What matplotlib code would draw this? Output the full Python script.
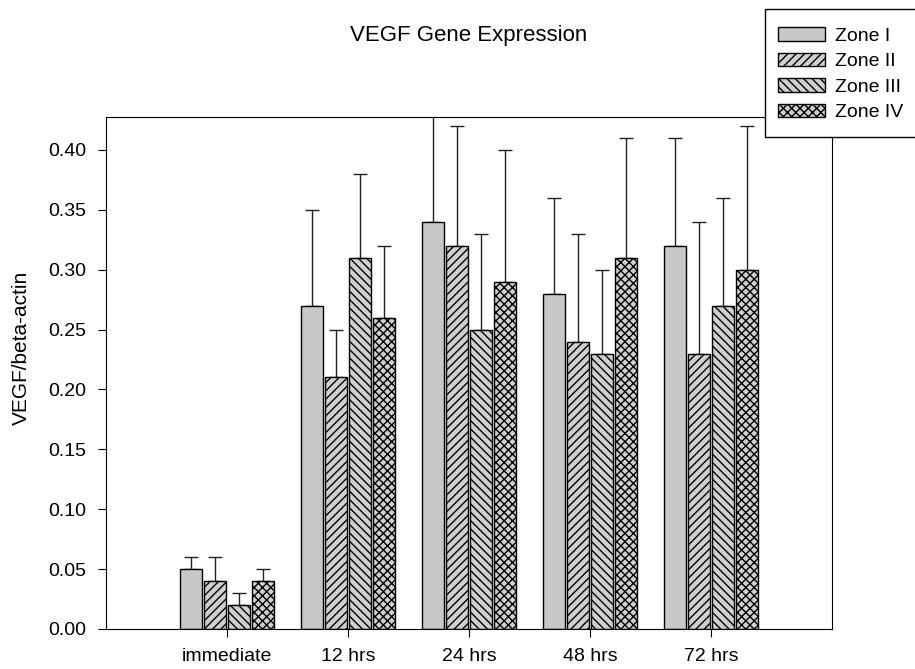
import matplotlib
matplotlib.use("Agg")
import matplotlib.pyplot as plt
from matplotlib.patches import Rectangle
import numpy as np

plt.rcParams['font.family'] = ['Liberation Sans', 'DejaVu Sans']
plt.rcParams['hatch.linewidth'] = 1.0

categories = ["immediate", "12 hrs", "24 hrs", "48 hrs", "72 hrs"]
zones = ["Zone I", "Zone II", "Zone III", "Zone IV"]
means = {
    "Zone I":   [0.05, 0.27, 0.34, 0.28, 0.32],
    "Zone II":  [0.04, 0.21, 0.32, 0.24, 0.23],
    "Zone III": [0.02, 0.31, 0.25, 0.23, 0.27],
    "Zone IV":  [0.04, 0.26, 0.29, 0.31, 0.30],
}
upper = {
    "Zone I":   [0.06, 0.35, 0.44, 0.36, 0.41],
    "Zone II":  [0.06, 0.25, 0.42, 0.33, 0.34],
    "Zone III": [0.03, 0.38, 0.33, 0.30, 0.36],
    "Zone IV":  [0.05, 0.32, 0.40, 0.41, 0.42],
}
hatches = {"Zone I": "", "Zone II": "////", "Zone III": "\\\\\\\\", "Zone IV": "xxxx"}
faces = {"Zone I": "#c8c8c8", "Zone II": "#cfcfcf", "Zone III": "#cfcfcf", "Zone IV": "#cfcfcf"}

fig = plt.figure(figsize=(9.15, 6.69), dpi=100)
ax = fig.add_axes([0.1158, 0.0598, 0.7935, 0.7653])

x = np.arange(len(categories))
step = 0.2
width = 0.18
for i, z in enumerate(zones):
    off = (i - 1.5) * step
    m = np.array(means[z])
    err = np.array(upper[z]) - m
    ax.bar(x + off, m, width, color=faces[z], edgecolor="black", linewidth=1.0,
           hatch=hatches[z], label=z, zorder=2)
    ax.errorbar(x + off, m, yerr=[np.zeros_like(err), err], fmt="none",
                ecolor="#222222", elinewidth=1.0, capsize=5, capthick=1.0, zorder=1)

ax.set_xlim(-1, 5)
ax.set_ylim(0, 0.4275)
ax.set_xticks(x)
ax.set_xticklabels(categories, fontsize=14)
ax.set_yticks(np.arange(0, 0.41, 0.05))
ax.set_yticklabels([f"{v:.2f}" for v in np.arange(0, 0.41, 0.05)], fontsize=14)
ax.tick_params(axis="both", direction="out", length=6, width=0.8, pad=8)
ax.set_ylabel("VEGF/beta-actin", fontsize=15)
ax.yaxis.set_label_coords(-0.104, 0.549)
for s in ax.spines.values():
    s.set_linewidth(0.8)

fig.text(0.5127, 0.947, "VEGF Gene Expression", ha="center", va="center", fontsize=16)

W, H = 915.0, 669.0
box = Rectangle((765 / W, 1 - 137 / H), (160) / W, (137 - 9) / H,
                transform=fig.transFigure, facecolor="white", edgecolor="black",
                linewidth=1.0, zorder=5, clip_on=False)
fig.add_artist(box)

leg = fig.legend(loc="upper left", bbox_to_anchor=(778 / W, 1 - 27 / H), fontsize=14,
                 frameon=False, handlelength=2.4, handleheight=0.72, borderpad=0,
                 labelspacing=0.4, borderaxespad=0, handletextpad=0.55)
leg.set_zorder(6)

fig.savefig("out.png", dpi=100)
